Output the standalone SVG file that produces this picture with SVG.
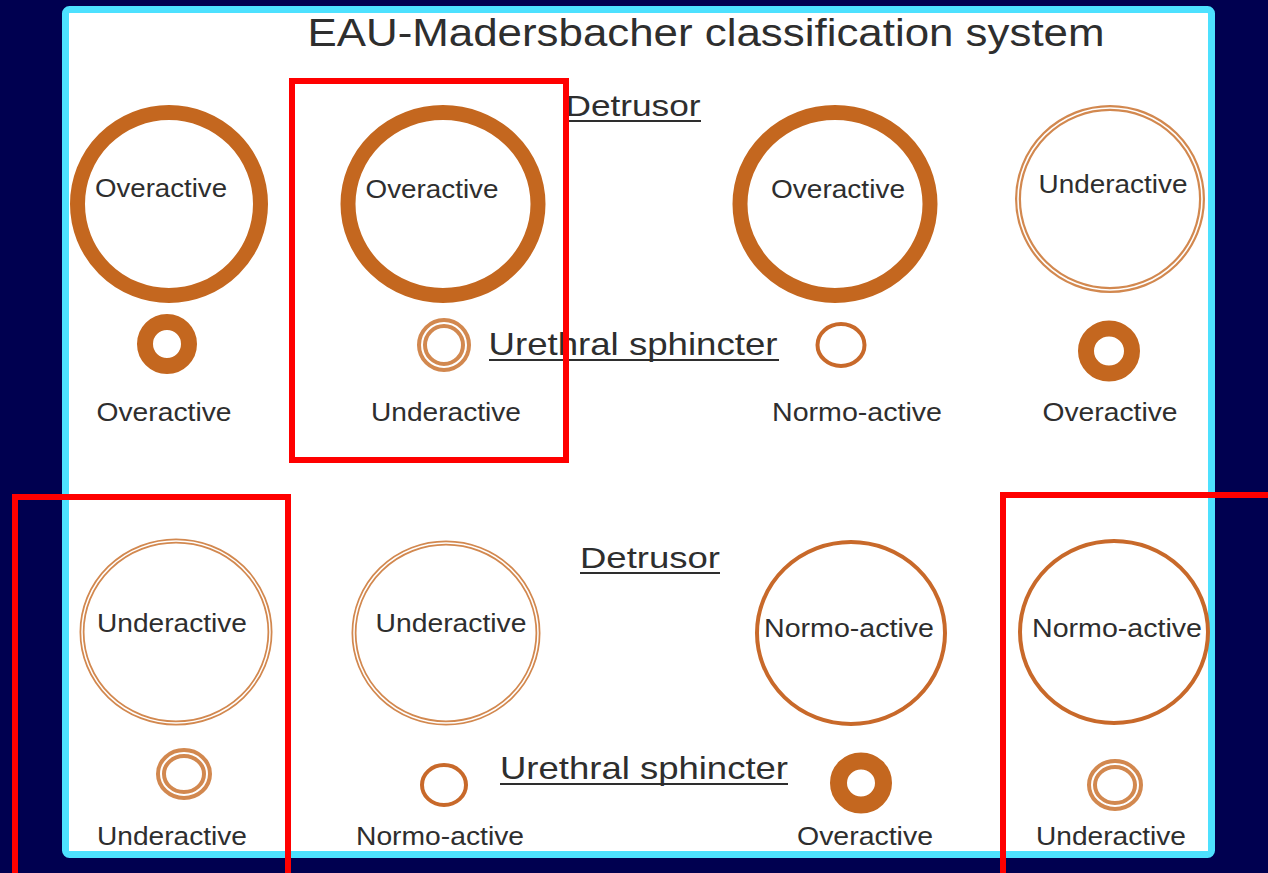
<svg xmlns="http://www.w3.org/2000/svg" width="1268" height="873" viewBox="0 0 1268 873">
<style>
.lbl{font-family:"Liberation Sans",Arial,sans-serif;font-size:26px;fill:#2e2e2e;text-anchor:middle}
.head{font-family:"Liberation Sans",Arial,sans-serif;fill:#2e2e2e;text-anchor:middle}
.ul{stroke:#2e2e2e;stroke-width:2}
.over{fill:none;stroke:#C4671F}
.norm{fill:none;stroke:#C8692A;stroke-width:4}
.under{fill:none;stroke:#D2884F}
.gap{fill:none;stroke:#fff}
.red{fill:none;stroke:#FF0000;stroke-width:6}
</style>
<rect x="0" y="0" width="1268" height="873" fill="#000050"/>
<rect x="65.5" y="9.5" width="1146" height="845" rx="4" fill="#ffffff" stroke="#4DE1FF" stroke-width="7"/>

<text class="head" x="706" y="46" font-size="38" textLength="797" lengthAdjust="spacingAndGlyphs">EAU-Madersbacher classification system</text>

<g id="hdr-row1">
<text class="head" x="633" y="116" font-size="30" textLength="135" lengthAdjust="spacingAndGlyphs">Detrusor</text>
<line class="ul" x1="565" y1="121" x2="701" y2="121"/>
<text class="head" x="633" y="355" font-size="32" textLength="289" lengthAdjust="spacingAndGlyphs">Urethral sphincter</text>
<line class="ul" x1="489" y1="360" x2="779" y2="360"/>
</g>
<g id="hdr-row2">
<text class="head" x="650" y="568" font-size="30" textLength="140" lengthAdjust="spacingAndGlyphs">Detrusor</text>
<line class="ul" x1="580" y1="573" x2="720" y2="573"/>
<text class="head" x="644" y="779" font-size="32" textLength="288" lengthAdjust="spacingAndGlyphs">Urethral sphincter</text>
<line class="ul" x1="500" y1="784" x2="788" y2="784"/>
</g>

<!-- Row 1 -->
<g id="r1c1">
<ellipse class="over" cx="169" cy="204" rx="91.5" ry="91.5" stroke-width="15"/>
<text class="lbl" x="161" y="197" textLength="132" lengthAdjust="spacingAndGlyphs">Overactive</text>
<ellipse class="over" cx="167" cy="344" rx="22" ry="22" stroke-width="16"/>
<text class="lbl" x="164" y="421" textLength="135" lengthAdjust="spacingAndGlyphs">Overactive</text>
</g>
<g id="r1c2">
<ellipse class="over" cx="443" cy="204" rx="95" ry="91.5" stroke-width="15"/>
<text class="lbl" x="432" y="198" textLength="133" lengthAdjust="spacingAndGlyphs">Overactive</text>
<ellipse class="under" cx="444" cy="345" rx="22" ry="22" stroke-width="10"/>
<ellipse class="gap" cx="444" cy="345" rx="22" ry="22" stroke-width="2"/>
<text class="lbl" x="446" y="421" textLength="150" lengthAdjust="spacingAndGlyphs">Underactive</text>
</g>
<g id="r1c3">
<ellipse class="over" cx="835" cy="204" rx="95" ry="91.5" stroke-width="15"/>
<text class="lbl" x="838" y="198" textLength="134" lengthAdjust="spacingAndGlyphs">Overactive</text>
<ellipse class="norm" cx="841" cy="345" rx="23.5" ry="21"/>
<text class="lbl" x="857" y="421" textLength="170" lengthAdjust="spacingAndGlyphs">Normo-active</text>
</g>
<g id="r1c4">
<ellipse class="under" cx="1110" cy="199" rx="92" ry="91" stroke-width="6"/>
<ellipse class="gap" cx="1110" cy="199" rx="92" ry="91" stroke-width="1.6"/>
<text class="lbl" x="1113" y="193" textLength="149" lengthAdjust="spacingAndGlyphs">Underactive</text>
<ellipse class="over" cx="1109" cy="351" rx="23" ry="22.5" stroke-width="16"/>
<text class="lbl" x="1110" y="421" textLength="135" lengthAdjust="spacingAndGlyphs">Overactive</text>
</g>

<!-- Row 2 -->
<g id="r2c1">
<ellipse class="under" cx="176" cy="632" rx="94" ry="91" stroke-width="5"/>
<ellipse class="gap" cx="176" cy="632" rx="94" ry="91" stroke-width="1.5"/>
<text class="lbl" x="172" y="632" textLength="150" lengthAdjust="spacingAndGlyphs">Underactive</text>
<ellipse class="under" cx="184" cy="774" rx="23" ry="21" stroke-width="10"/>
<ellipse class="gap" cx="184" cy="774" rx="23" ry="21" stroke-width="2"/>
<text class="lbl" x="172" y="845" textLength="150" lengthAdjust="spacingAndGlyphs">Underactive</text>
</g>
<g id="r2c2">
<ellipse class="under" cx="446" cy="633" rx="92" ry="90" stroke-width="5"/>
<ellipse class="gap" cx="446" cy="633" rx="92" ry="90" stroke-width="1.5"/>
<text class="lbl" x="451" y="632" textLength="151" lengthAdjust="spacingAndGlyphs">Underactive</text>
<ellipse class="norm" cx="444" cy="785" rx="22" ry="20"/>
<text class="lbl" x="440" y="845" textLength="168" lengthAdjust="spacingAndGlyphs">Normo-active</text>
</g>
<g id="r2c3">
<ellipse class="norm" cx="851" cy="633" rx="94" ry="91"/>
<text class="lbl" x="849" y="637" textLength="170" lengthAdjust="spacingAndGlyphs">Normo-active</text>
<ellipse class="over" cx="861" cy="783" rx="22.5" ry="22" stroke-width="17"/>
<text class="lbl" x="865" y="845" textLength="136" lengthAdjust="spacingAndGlyphs">Overactive</text>
</g>
<g id="r2c4">
<ellipse class="norm" cx="1114" cy="632" rx="94" ry="91"/>
<text class="lbl" x="1117" y="637" textLength="170" lengthAdjust="spacingAndGlyphs">Normo-active</text>
<ellipse class="under" cx="1115" cy="785" rx="23" ry="21" stroke-width="10"/>
<ellipse class="gap" cx="1115" cy="785" rx="23" ry="21" stroke-width="2"/>
<text class="lbl" x="1111" y="845" textLength="150" lengthAdjust="spacingAndGlyphs">Underactive</text>
</g>

<g id="highlights">
<rect class="red" x="292" y="81" width="274" height="379"/>
<rect class="red" x="15" y="497" width="273" height="390"/>
<rect class="red" x="1003" y="495" width="280" height="390"/>
</g>
</svg>
